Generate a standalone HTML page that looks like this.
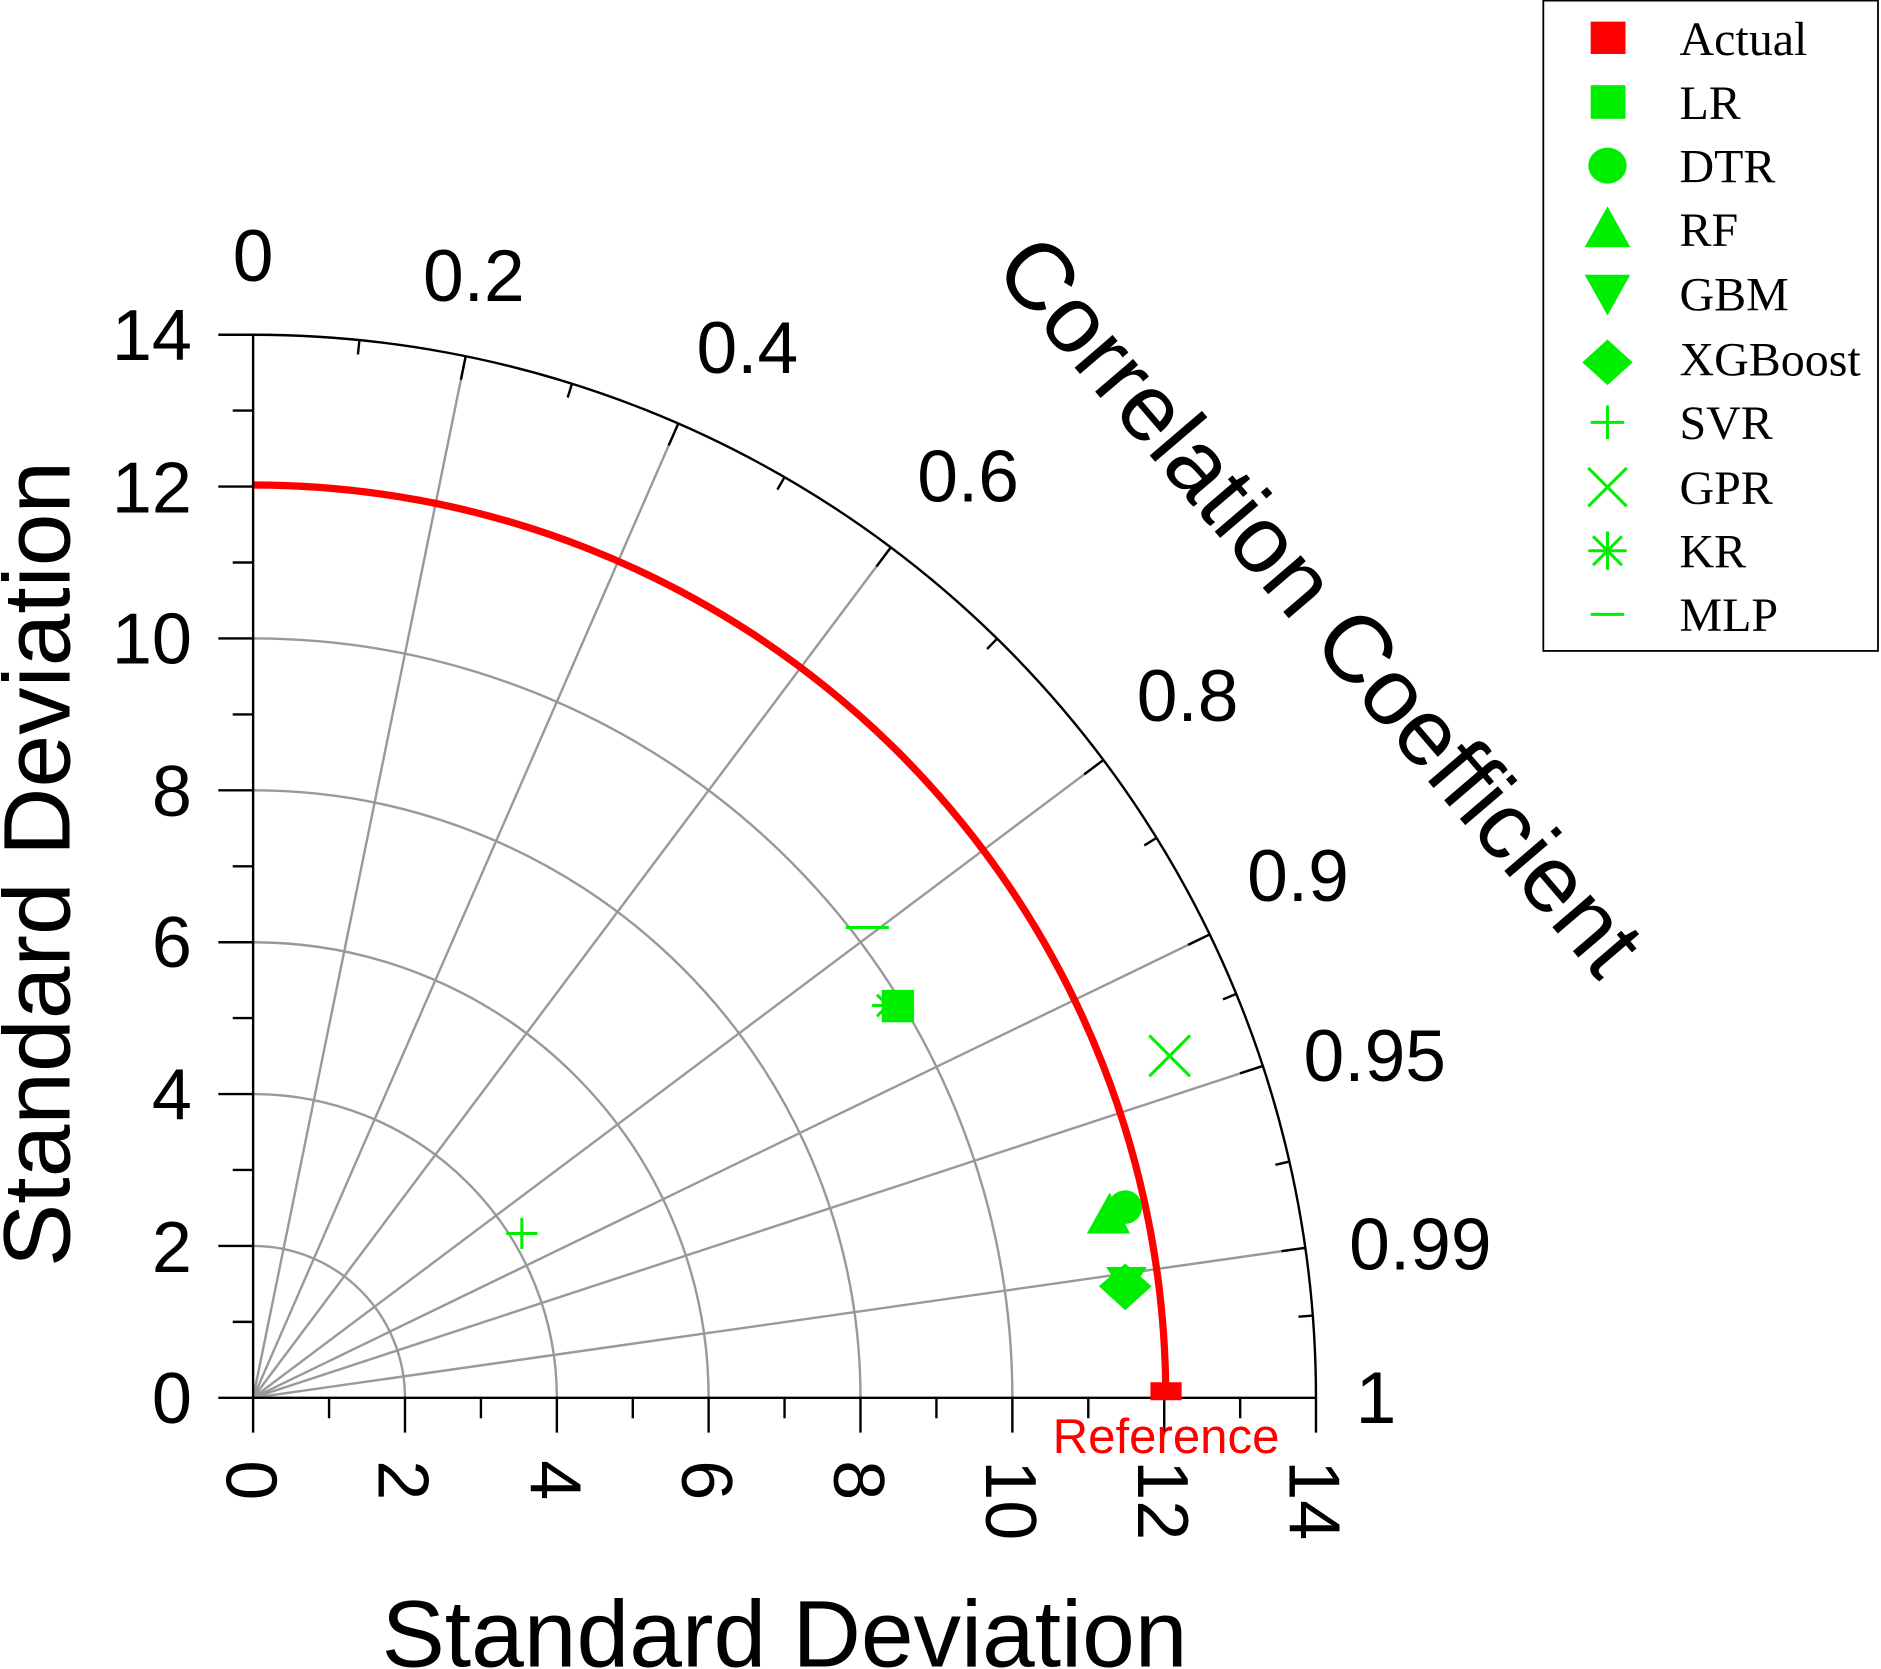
<!DOCTYPE html>
<html><head><meta charset="utf-8"><style>html,body{margin:0;padding:0;background:#fff}svg{display:block}</style></head>
<body>
<svg width="1881" height="1669" viewBox="0 0 1568 1391" preserveAspectRatio="none" xmlns="http://www.w3.org/2000/svg" font-family="Liberation Sans, Arial, sans-serif">
<rect width="1568" height="1391" fill="#fff"/>
<g fill="none" stroke="#999" stroke-width="2">
<path d="M337.6,1165 A126.6,126.6 0 0 0 211,1038.4"/>
<path d="M464.2,1165 A253.2,253.2 0 0 0 211,911.8"/>
<path d="M590.7,1165 A379.7,379.7 0 0 0 211,785.3"/>
<path d="M717.3,1165 A506.3,506.3 0 0 0 211,658.7"/>
<path d="M843.9,1165 A632.9,632.9 0 0 0 211,532.1"/>
<line x1="211" y1="1165" x2="388.2" y2="296.9"/>
<line x1="211" y1="1165" x2="565.4" y2="353.0"/>
<line x1="211" y1="1165" x2="742.6" y2="456.2"/>
<line x1="211" y1="1165" x2="919.8" y2="633.4"/>
<line x1="211" y1="1165" x2="1008.4" y2="778.8"/>
<line x1="211" y1="1165" x2="1052.7" y2="888.4"/>
<line x1="211" y1="1165" x2="1088.1" y2="1040.0"/>
</g>
<path d="M971.8,1165 A760.8,760.8 0 0 0 211,404.2" fill="none" stroke="#f00" stroke-width="6"/>
<g stroke="#000" stroke-width="2" fill="none">
<path d="M1097,1165 A886,886 0 0 0 211,279"/>
<line x1="211" y1="279" x2="211" y2="1165"/>
<line x1="211" y1="1165" x2="1097" y2="1165"/>
<line x1="388.2" y1="296.9" x2="384.2" y2="316.5"/>
<line x1="565.4" y1="353.0" x2="557.4" y2="371.3"/>
<line x1="742.6" y1="456.2" x2="730.6" y2="472.2"/>
<line x1="919.8" y1="633.4" x2="903.8" y2="645.4"/>
<line x1="1008.4" y1="778.8" x2="990.4" y2="787.5"/>
<line x1="1052.7" y1="888.4" x2="1033.7" y2="894.6"/>
<line x1="1088.1" y1="1040.0" x2="1068.3" y2="1042.8"/>
<line x1="299.6" y1="283.4" x2="298.4" y2="295.4"/>
<line x1="476.8" y1="319.8" x2="473.2" y2="331.3"/>
<line x1="654" y1="397.7" x2="648" y2="408.1"/>
<line x1="831.2" y1="532.3" x2="822.8" y2="540.9"/>
<line x1="964.1" y1="698.3" x2="953.9" y2="704.6"/>
<line x1="1030.6" y1="828.3" x2="1019.5" y2="832.9"/>
<line x1="1074.9" y1="968.1" x2="1063.2" y2="970.8"/>
<line x1="1094.3" y1="1096.4" x2="1082.4" y2="1097.4"/>
<path d="M211,1165v29M274.3,1165v17M337.6,1165v29M400.9,1165v17M464.2,1165v29M527.5,1165v17M590.7,1165v29M654,1165v17M717.3,1165v29M780.6,1165v17M843.9,1165v29M907.2,1165v17M970.5,1165v29M1033.8,1165v17M1097,1165v29"/>
<path d="M211,1165h-29M211,1101.7h-17M211,1038.4h-29M211,975.1h-17M211,911.8h-29M211,848.5h-17M211,785.3h-29M211,722h-17M211,658.7h-29M211,595.4h-17M211,532.1h-29M211,468.8h-17M211,405.5h-29M211,342.2h-17M211,279h-29"/>
</g>
<g font-size="60" fill="#000" text-anchor="end">
<text x="160" y="1186">0</text>
<text x="160" y="1060">2</text>
<text x="160" y="933">4</text>
<text x="160" y="806">6</text>
<text x="160" y="680">8</text>
<text x="160" y="553">10</text>
<text x="160" y="427">12</text>
<text x="160" y="300">14</text>
</g>
<g font-size="60" fill="#000">
<text transform="translate(189,1217) rotate(90)">0</text>
<text transform="translate(315.6,1217) rotate(90)">2</text>
<text transform="translate(442.2,1217) rotate(90)">4</text>
<text transform="translate(568.7,1217) rotate(90)">6</text>
<text transform="translate(695.3,1217) rotate(90)">8</text>
<text transform="translate(821.9,1217) rotate(90)">10</text>
<text transform="translate(948.5,1217) rotate(90)">12</text>
<text transform="translate(1075,1217) rotate(90)">14</text>
</g>
<g font-size="61" fill="#000" text-anchor="middle">
<text x="211" y="234">0</text>
<text x="395" y="251">0.2</text>
<text x="623" y="311">0.4</text>
<text x="807" y="418">0.6</text>
<text x="990" y="601">0.8</text>
<text x="1082" y="751">0.9</text>
<text x="1146" y="901">0.95</text>
<text x="1184" y="1058">0.99</text>
<text x="1147" y="1186">1</text>
</g>
<text font-size="79" fill="#000" text-anchor="middle" transform="translate(1080,522) rotate(49.5)">Correlation Coefficient</text>
<text font-size="79" fill="#000" text-anchor="middle" transform="translate(58,720) rotate(-90)">Standard Deviation</text>
<text font-size="79" fill="#000" text-anchor="middle" x="654" y="1389">Standard Deviation</text>
<text font-size="41" fill="#f00" text-anchor="middle" x="972" y="1211">Reference</text>
<rect x="959" y="1152" width="26" height="15" fill="#f00"/>
<g fill="#00ee00" stroke="none">
<rect x="735" y="825" width="27" height="27"/>
<circle cx="938" cy="1006" r="14"/>
<polygon points="925,994 942,1028 906,1028"/>
<polygon points="922,1056 956,1056 939,1082"/>
<polygon points="938,1053 960,1072 938,1092 916,1072"/>
</g>
<g stroke="#00ee00" stroke-width="2.5" fill="none">
<path d="M734,838h27M747,825v27"/>
<path d="M422,1028h26M435,1015v26"/>
<path d="M958,863l34,34M992,863l-34,34"/>
<path d="M727,838h26M740,825v26M731,829l18,18M749,829l-18,18"/>
<path d="M705,773h36"/>
</g>
<rect x="1286.5" y="0.5" width="279" height="542" fill="#fff" stroke="#000" stroke-width="1.5"/>
<g font-family="Liberation Serif, Times New Roman, serif" font-size="40" fill="#000">
<text x="1400" y="46">Actual</text>
<text x="1400" y="99">LR</text>
<text x="1400" y="152">DTR</text>
<text x="1400" y="205">RF</text>
<text x="1400" y="259">GBM</text>
<text x="1400" y="313">XGBoost</text>
<text x="1400" y="366">SVR</text>
<text x="1400" y="420">GPR</text>
<text x="1400" y="473">KR</text>
<text x="1400" y="526">MLP</text>
</g>
<rect x="1326" y="18" width="29" height="27" fill="#f00"/>
<g fill="#00ee00">
<rect x="1326" y="71" width="29" height="28"/>
<ellipse cx="1340" cy="138" rx="16" ry="15"/>
<polygon points="1340,172 1359,206 1321,206"/>
<polygon points="1321,229 1359,229 1340,263"/>
<polygon points="1340,283 1361,302 1340,321 1319,302"/>
</g>
<g stroke="#00ee00" stroke-width="2.5" fill="none">
<path d="M1326,352h28M1340,338v28"/>
<path d="M1324,390l32,32M1356,390l-32,32"/>
<path d="M1324,459h32M1340,443v32M1328,447l24,24M1352,447l-24,24"/>
<path d="M1326,512h28"/>
</g>
</svg>
</body></html>
